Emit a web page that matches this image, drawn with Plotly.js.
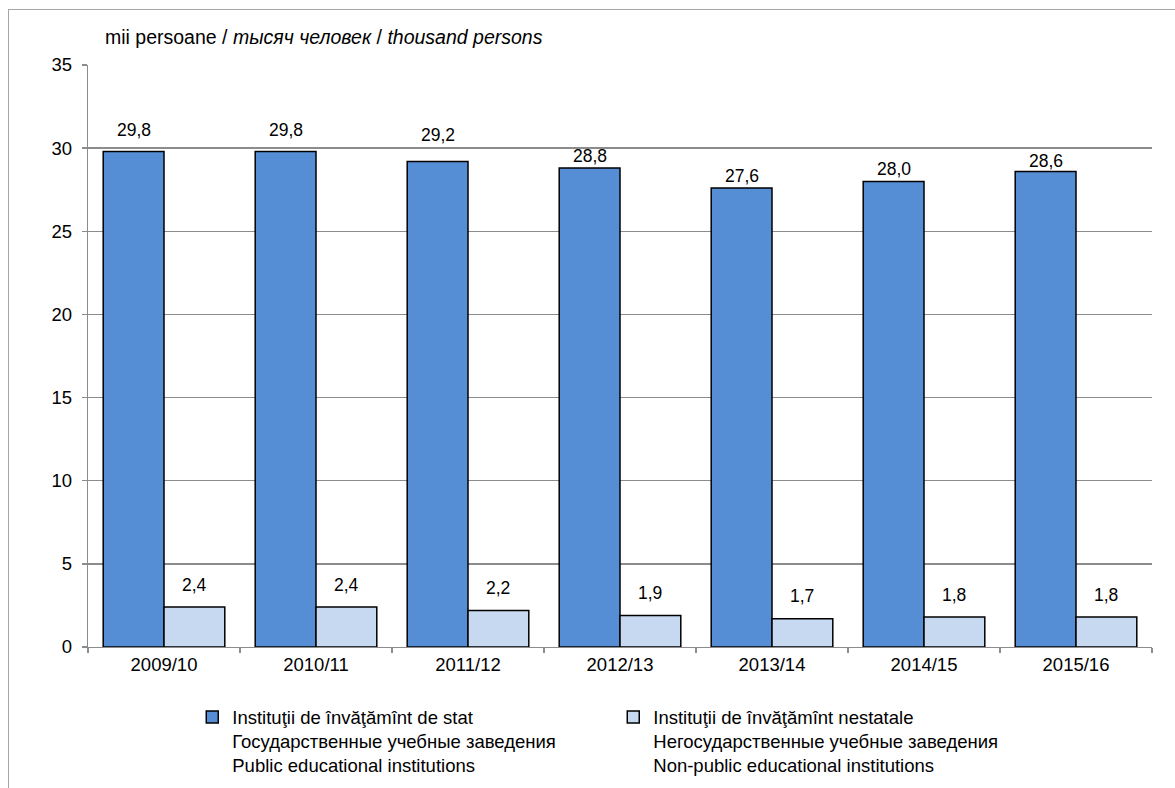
<!DOCTYPE html>
<html>
<head>
<meta charset="utf-8">
<script src="https://cdn.plot.ly/plotly-3.0.1.min.js"></script>
<style>
  html, body { margin: 0; padding: 0; background: #fff; }
  #wrap { position: relative; width: 1175px; height: 788px; overflow: hidden; }
  #chart { position: absolute; left: 0; top: 0; width: 1175px; height: 788px; }
  #frame { position: absolute; left: 8px; top: 9px; width: 1300px; height: 900px;
           border-left: 1px solid #a6a6a6; border-top: 1px solid #a6a6a6; pointer-events: none; }
</style>
</head>
<body>
<div id="wrap">
  <div id="chart"></div>
  <div id="frame"></div>
</div>
<script>
// ---- data ----
const years = ["2009/10", "2010/11", "2011/12", "2012/13", "2013/14", "2014/15", "2015/16"];
const publicInst = [29.8, 29.8, 29.2, 28.8, 27.6, 28.0, 28.6];
const nonPublicInst = [2.4, 2.4, 2.2, 1.9, 1.7, 1.8, 1.8];
const publicName = "Instituţii de învăţămînt de stat<br>Государственные учебные заведения<br>Public educational institutions";
const nonPublicName = "Instituţii de învăţămînt nestatale<br>Негосударственные учебные заведения<br>Non-public educational institutions";
const unitLabel = "mii persoane / <i>тысяч человек</i> / <i>thousand persons</i>";

// label offsets (px above bar), style only
const publicLabelShift = [9.5, 9.5, 14.5, 0.5, 0.5, 0.5, -1.5];
const nonPublicLabelShift = [10.5, 10.5, 10.5, 10.5, 10.5, 10.5, 10.5];

const W = 1175, H = 788;
const M = { l: 88, r: 23, t: 65, b: 141 };
const bargap = 0.2;
const FONT = "Liberation Sans, Arial, sans-serif";
const FS_TICK = 18.5, FS_LEG = 18.5, FS_LBL = 17.5, FS_TITLE = 19.5;

const fmt = v => v.toFixed(1).replace(".", ",");

const plotW = W - M.l - M.r;
const barW = plotW / years.length * (1 - bargap) / 2;

const annotations = [];
years.forEach((y, i) => {
  annotations.push({
    x: y, y: publicInst[i], xref: "x", yref: "y",
    text: fmt(publicInst[i]), showarrow: false,
    xanchor: "center", yanchor: "bottom", xshift: -barW / 2, yshift: publicLabelShift[i],
    font: { family: FONT, size: FS_LBL, color: "#000" }
  });
  annotations.push({
    x: y, y: nonPublicInst[i], xref: "x", yref: "y",
    text: fmt(nonPublicInst[i]), showarrow: false,
    xanchor: "center", yanchor: "bottom", xshift: barW / 2, yshift: nonPublicLabelShift[i],
    font: { family: FONT, size: FS_LBL, color: "#000" }
  });
});
annotations.push({
  x: 0.014, y: 1.048, xref: "paper", yref: "paper",
  xanchor: "left", yanchor: "middle", showarrow: false,
  text: unitLabel, font: { family: FONT, size: FS_TITLE, color: "#000" }
});

const traces = [
  {
    type: "bar", x: years, y: publicInst, name: publicName,
    marker: { color: "#558ED5", line: { color: "#000", width: 1.5 } },
    hoverinfo: "y"
  },
  {
    type: "bar", x: years, y: nonPublicInst, name: nonPublicName,
    marker: { color: "#C6D9F1", line: { color: "#000", width: 1.5 } },
    hoverinfo: "y"
  }
];

const layout = {
  width: W, height: H,
  margin: M,
  paper_bgcolor: "#fff", plot_bgcolor: "#fff",
  font: { family: FONT, size: FS_TICK, color: "#000" },
  barmode: "group", bargap: bargap, bargroupgap: 0,
  showlegend: true,
  legend: {
    orientation: "h", x: 0.098, xanchor: "left",
    yref: "container", y: 0.1136, yanchor: "top",
    valign: "top", entrywidth: 376, entrywidthmode: "pixels",
    font: { family: FONT, size: FS_LEG, color: "#000" },
    traceorder: "normal", itemclick: false
  },
  xaxis: {
    type: "category", showline: true, linecolor: "#8c8c8c", linewidth: 1.3,
    ticks: "outside", tickson: "boundaries", ticklen: 5, tickcolor: "#8c8c8c", tickwidth: 1.3,
    showgrid: false, zeroline: false, automargin: false,
    tickfont: { family: FONT, size: FS_TICK, color: "#000" }
  },
  yaxis: {
    range: [0, 35], dtick: 5, tick0: 0,
    showline: true, linecolor: "#8c8c8c", linewidth: 1.3,
    ticks: "outside", ticklen: 5, tickcolor: "#8c8c8c", tickwidth: 1.3,
    showgrid: true, gridcolor: "#8c8c8c", gridwidth: 1.3,
    zeroline: false, ticklabelstandoff: 6, automargin: false,
    tickfont: { family: FONT, size: FS_TICK, color: "#000" }
  },
  annotations: annotations
};

Plotly.newPlot("chart", traces, layout, { staticPlot: true, displayModeBar: false });
</script>
</body>
</html>
